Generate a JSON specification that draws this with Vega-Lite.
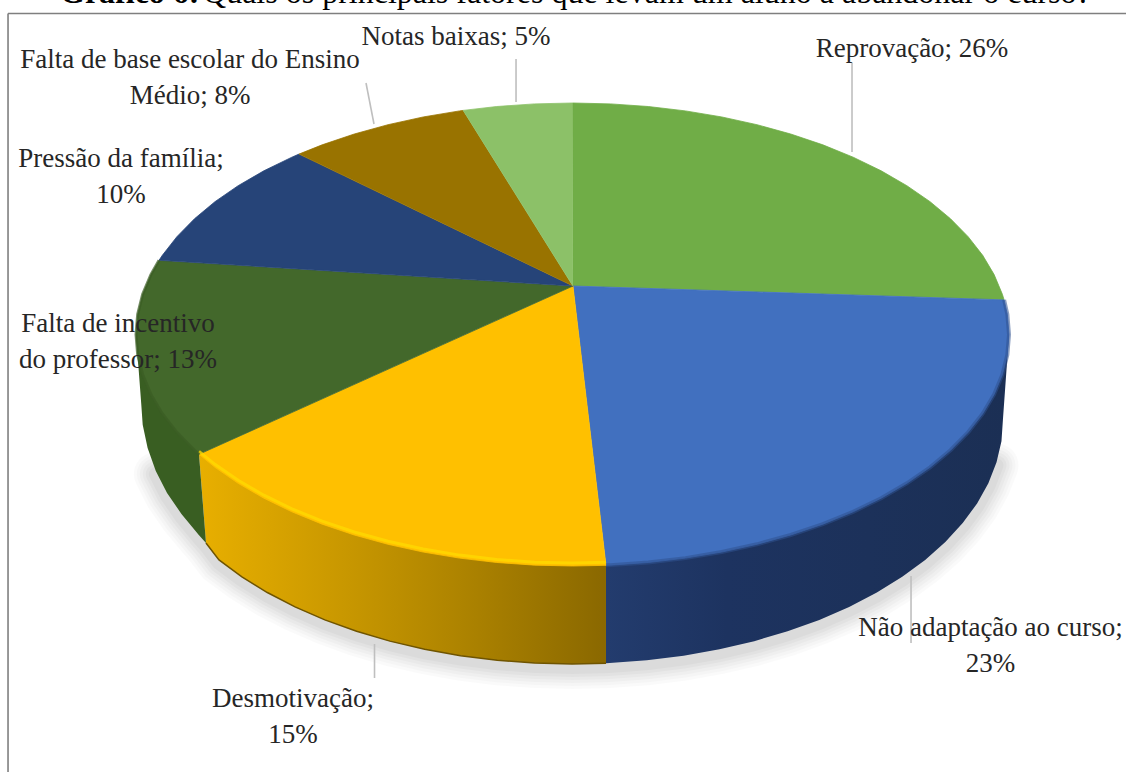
{
"$schema":"https://vega.github.io/schema/vega-lite/v6.json",
"width":1126,"height":772,"padding":0,"autosize":"none","background":"#ffffff",
"view":{"stroke":null},
"config":{"axis":{"grid":false}},
"datasets":{
"faces":[
{"slice":"Reprovação","i":0,"x":0.001,"y":0.2095},{"slice":"Reprovação","i":1,"x":0,"y":1,"edge":1},{"slice":"Reprovação","i":2,"x":0.0872,"y":0.9962,"edge":1},{"slice":"Reprovação","i":3,"x":0.1736,"y":0.9848,"edge":1},{"slice":"Reprovação","i":4,"x":0.2588,"y":0.9659,"edge":1},{"slice":"Reprovação","i":5,"x":0.342,"y":0.9397,"edge":1},{"slice":"Reprovação","i":6,"x":0.4226,"y":0.9063,"edge":1},{"slice":"Reprovação","i":7,"x":0.5,"y":0.866,"edge":1},{"slice":"Reprovação","i":8,"x":0.5736,"y":0.8192,"edge":1},{"slice":"Reprovação","i":9,"x":0.6428,"y":0.766,"edge":1},{"slice":"Reprovação","i":10,"x":0.7071,"y":0.7071,"edge":1},{"slice":"Reprovação","i":11,"x":0.766,"y":0.6428,"edge":1},{"slice":"Reprovação","i":12,"x":0.8192,"y":0.5736,"edge":1},{"slice":"Reprovação","i":13,"x":0.866,"y":0.5,"edge":1},{"slice":"Reprovação","i":14,"x":0.9063,"y":0.4226,"edge":1},{"slice":"Reprovação","i":15,"x":0.9397,"y":0.342,"edge":1},{"slice":"Reprovação","i":16,"x":0.9659,"y":0.2588,"edge":1},{"slice":"Reprovação","i":17,"x":0.9848,"y":0.1736,"edge":1},{"slice":"Reprovação","i":18,"x":0.9888,"y":0.1495,"edge":1},
{"slice":"Não adaptação ao curso","i":0,"x":0.001,"y":0.2095},{"slice":"Não adaptação ao curso","i":1,"x":0.9888,"y":0.1495,"edge":1},{"slice":"Não adaptação ao curso","i":2,"x":0.9962,"y":0.0872,"edge":1},{"slice":"Não adaptação ao curso","i":3,"x":1,"y":0,"edge":1},{"slice":"Não adaptação ao curso","i":4,"x":0.9962,"y":-0.0872,"edge":1},{"slice":"Não adaptação ao curso","i":5,"x":0.9848,"y":-0.1736,"edge":1},{"slice":"Não adaptação ao curso","i":6,"x":0.9659,"y":-0.2588,"edge":1},{"slice":"Não adaptação ao curso","i":7,"x":0.9397,"y":-0.342,"edge":1},{"slice":"Não adaptação ao curso","i":8,"x":0.9063,"y":-0.4226,"edge":1},{"slice":"Não adaptação ao curso","i":9,"x":0.866,"y":-0.5,"edge":1},{"slice":"Não adaptação ao curso","i":10,"x":0.8192,"y":-0.5736,"edge":1},{"slice":"Não adaptação ao curso","i":11,"x":0.766,"y":-0.6428,"edge":1},{"slice":"Não adaptação ao curso","i":12,"x":0.7071,"y":-0.7071,"edge":1},{"slice":"Não adaptação ao curso","i":13,"x":0.6428,"y":-0.766,"edge":1},{"slice":"Não adaptação ao curso","i":14,"x":0.5736,"y":-0.8192,"edge":1},{"slice":"Não adaptação ao curso","i":15,"x":0.5,"y":-0.866,"edge":1},{"slice":"Não adaptação ao curso","i":16,"x":0.4226,"y":-0.9063,"edge":1},{"slice":"Não adaptação ao curso","i":17,"x":0.342,"y":-0.9397,"edge":1},{"slice":"Não adaptação ao curso","i":18,"x":0.2588,"y":-0.9659,"edge":1},{"slice":"Não adaptação ao curso","i":19,"x":0.1736,"y":-0.9848,"edge":1},{"slice":"Não adaptação ao curso","i":20,"x":0.0872,"y":-0.9962,"edge":1},{"slice":"Não adaptação ao curso","i":21,"x":0.0767,"y":-0.9971,"edge":1},
{"slice":"Desmotivação","i":0,"x":0.001,"y":0.2095},{"slice":"Desmotivação","i":1,"x":0.0767,"y":-0.9971,"edge":1},{"slice":"Desmotivação","i":2,"x":0,"y":-1,"edge":1},{"slice":"Desmotivação","i":3,"x":-0.0872,"y":-0.9962,"edge":1},{"slice":"Desmotivação","i":4,"x":-0.1736,"y":-0.9848,"edge":1},{"slice":"Desmotivação","i":5,"x":-0.2588,"y":-0.9659,"edge":1},{"slice":"Desmotivação","i":6,"x":-0.342,"y":-0.9397,"edge":1},{"slice":"Desmotivação","i":7,"x":-0.4226,"y":-0.9063,"edge":1},{"slice":"Desmotivação","i":8,"x":-0.5,"y":-0.866,"edge":1},{"slice":"Desmotivação","i":9,"x":-0.5736,"y":-0.8192,"edge":1},{"slice":"Desmotivação","i":10,"x":-0.6428,"y":-0.766,"edge":1},{"slice":"Desmotivação","i":11,"x":-0.7071,"y":-0.7071,"edge":1},{"slice":"Desmotivação","i":12,"x":-0.766,"y":-0.6428,"edge":1},{"slice":"Desmotivação","i":13,"x":-0.8192,"y":-0.5736,"edge":1},{"slice":"Desmotivação","i":14,"x":-0.8557,"y":-0.5175,"edge":1},
{"slice":"Falta de incentivo do professor","i":0,"x":0.001,"y":0.2095},{"slice":"Falta de incentivo do professor","i":1,"x":-0.8557,"y":-0.5175,"edge":1},{"slice":"Falta de incentivo do professor","i":2,"x":-0.866,"y":-0.5,"edge":1},{"slice":"Falta de incentivo do professor","i":3,"x":-0.9063,"y":-0.4226,"edge":1},{"slice":"Falta de incentivo do professor","i":4,"x":-0.9397,"y":-0.342,"edge":1},{"slice":"Falta de incentivo do professor","i":5,"x":-0.9659,"y":-0.2588,"edge":1},{"slice":"Falta de incentivo do professor","i":6,"x":-0.9848,"y":-0.1736,"edge":1},{"slice":"Falta de incentivo do professor","i":7,"x":-0.9962,"y":-0.0872,"edge":1},{"slice":"Falta de incentivo do professor","i":8,"x":-1,"y":0,"edge":1},{"slice":"Falta de incentivo do professor","i":9,"x":-0.9962,"y":0.0872,"edge":1},{"slice":"Falta de incentivo do professor","i":10,"x":-0.9848,"y":0.1736,"edge":1},{"slice":"Falta de incentivo do professor","i":11,"x":-0.9659,"y":0.2588,"edge":1},{"slice":"Falta de incentivo do professor","i":12,"x":-0.9472,"y":0.3206,"edge":1},
{"slice":"Pressão da família","i":0,"x":0.001,"y":0.2095},{"slice":"Pressão da família","i":1,"x":-0.9472,"y":0.3206,"edge":1},{"slice":"Pressão da família","i":2,"x":-0.9397,"y":0.342,"edge":1},{"slice":"Pressão da família","i":3,"x":-0.9063,"y":0.4226,"edge":1},{"slice":"Pressão da família","i":4,"x":-0.866,"y":0.5,"edge":1},{"slice":"Pressão da família","i":5,"x":-0.8192,"y":0.5736,"edge":1},{"slice":"Pressão da família","i":6,"x":-0.766,"y":0.6428,"edge":1},{"slice":"Pressão da família","i":7,"x":-0.7071,"y":0.7071,"edge":1},{"slice":"Pressão da família","i":8,"x":-0.6428,"y":0.766,"edge":1},{"slice":"Pressão da família","i":9,"x":-0.6266,"y":0.7793,"edge":1},
{"slice":"Falta de base escolar","i":0,"x":0.001,"y":0.2095},{"slice":"Falta de base escolar","i":1,"x":-0.6266,"y":0.7793,"edge":1},{"slice":"Falta de base escolar","i":2,"x":-0.5736,"y":0.8192,"edge":1},{"slice":"Falta de base escolar","i":3,"x":-0.5,"y":0.866,"edge":1},{"slice":"Falta de base escolar","i":4,"x":-0.4226,"y":0.9063,"edge":1},{"slice":"Falta de base escolar","i":5,"x":-0.342,"y":0.9397,"edge":1},{"slice":"Falta de base escolar","i":6,"x":-0.2588,"y":0.9659,"edge":1},{"slice":"Falta de base escolar","i":7,"x":-0.2504,"y":0.9681,"edge":1},
{"slice":"Notas baixas","i":0,"x":0.001,"y":0.2095},{"slice":"Notas baixas","i":1,"x":-0.2504,"y":0.9681,"edge":1},{"slice":"Notas baixas","i":2,"x":-0.1736,"y":0.9848,"edge":1},{"slice":"Notas baixas","i":3,"x":-0.0872,"y":0.9962,"edge":1},{"slice":"Notas baixas","i":4,"x":0,"y":1,"edge":1}
],
"walls":[
{"slice":"Não adaptação ao curso","i":0,"x":1,"y":0},{"slice":"Não adaptação ao curso","i":1,"x":0.986,"y":-0.3693,"edge":1},{"slice":"Não adaptação ao curso","i":2,"x":0.9827,"y":-0.4612,"edge":1},{"slice":"Não adaptação ao curso","i":3,"x":0.9714,"y":-0.5523,"edge":1},{"slice":"Não adaptação ao curso","i":4,"x":0.9527,"y":-0.6421,"edge":1},{"slice":"Não adaptação ao curso","i":5,"x":0.9269,"y":-0.7298,"edge":1},{"slice":"Não adaptação ao curso","i":6,"x":0.8939,"y":-0.8147,"edge":1},{"slice":"Não adaptação ao curso","i":7,"x":0.8541,"y":-0.8963,"edge":1},{"slice":"Não adaptação ao curso","i":8,"x":0.8079,"y":-0.9739,"edge":1},{"slice":"Não adaptação ao curso","i":9,"x":0.7554,"y":-1.0468,"edge":1},{"slice":"Não adaptação ao curso","i":10,"x":0.6972,"y":-1.1146,"edge":1},{"slice":"Não adaptação ao curso","i":11,"x":0.6337,"y":-1.1767,"edge":1},{"slice":"Não adaptação ao curso","i":12,"x":0.5654,"y":-1.2327,"edge":1},{"slice":"Não adaptação ao curso","i":13,"x":0.4927,"y":-1.2821,"edge":1},{"slice":"Não adaptação ao curso","i":14,"x":0.4163,"y":-1.3245,"edge":1},{"slice":"Não adaptação ao curso","i":15,"x":0.3367,"y":-1.3597,"edge":1},{"slice":"Não adaptação ao curso","i":16,"x":0.2545,"y":-1.3874,"edge":1},{"slice":"Não adaptação ao curso","i":17,"x":0.1704,"y":-1.4073,"edge":1},{"slice":"Não adaptação ao curso","i":18,"x":0.0851,"y":-1.4193,"edge":1},{"slice":"Não adaptação ao curso","i":19,"x":0.0767,"y":-1.42,"edge":1},{"slice":"Não adaptação ao curso","i":20,"x":0.0767,"y":-0.9971},
{"slice":"Desmotivação","i":0,"x":0.0767,"y":-0.9971},{"slice":"Desmotivação","i":1,"x":0.0767,"y":-1.42,"edge":1},{"slice":"Desmotivação","i":2,"x":-0.001,"y":-1.4233,"edge":1},{"slice":"Desmotivação","i":3,"x":-0.0871,"y":-1.4193,"edge":1},{"slice":"Desmotivação","i":4,"x":-0.1724,"y":-1.4073,"edge":1},{"slice":"Desmotivação","i":5,"x":-0.2565,"y":-1.3874,"edge":1},{"slice":"Desmotivação","i":6,"x":-0.3387,"y":-1.3597,"edge":1},{"slice":"Desmotivação","i":7,"x":-0.4183,"y":-1.3245,"edge":1},{"slice":"Desmotivação","i":8,"x":-0.4947,"y":-1.2821,"edge":1},{"slice":"Desmotivação","i":9,"x":-0.5674,"y":-1.2327,"edge":1},{"slice":"Desmotivação","i":10,"x":-0.6357,"y":-1.1767,"edge":1},{"slice":"Desmotivação","i":11,"x":-0.6992,"y":-1.1146,"edge":1},{"slice":"Desmotivação","i":12,"x":-0.7574,"y":-1.0468,"edge":1},{"slice":"Desmotivação","i":13,"x":-0.8099,"y":-0.9739,"edge":1},{"slice":"Desmotivação","i":14,"x":-0.8397,"y":-0.9006,"edge":1},{"slice":"Desmotivação","i":15,"x":-0.8557,"y":-0.5175},
{"slice":"Falta de incentivo do professor","i":0,"x":-0.8557,"y":-0.5175},{"slice":"Falta de incentivo do professor","i":1,"x":-0.8397,"y":-0.9006,"edge":1},{"slice":"Falta de incentivo do professor","i":2,"x":-0.8561,"y":-0.866,"edge":1},{"slice":"Falta de incentivo do professor","i":3,"x":-0.8959,"y":-0.775,"edge":1},{"slice":"Falta de incentivo do professor","i":4,"x":-0.9289,"y":-0.685,"edge":1},{"slice":"Falta de incentivo do professor","i":5,"x":-0.9547,"y":-0.59,"edge":1},{"slice":"Falta de incentivo do professor","i":6,"x":-0.9734,"y":-0.49,"edge":1},{"slice":"Falta de incentivo do professor","i":7,"x":-0.9847,"y":-0.39,"edge":1},{"slice":"Falta de incentivo do professor","i":8,"x":-0.988,"y":-0.3,"edge":1},{"slice":"Falta de incentivo do professor","i":9,"x":-1,"y":0}
],
"leaders":[
{"slice":"Reprovação","x":0.6403,"y":1.1728,"x2":0.6403,"y2":0.7883},
{"slice":"Notas baixas","x":-0.1294,"y":1.19,"x2":-0.1294,"y2":1.0043},
{"slice":"Falta de base escolar","x":-0.4731,"y":1.0864,"x2":-0.4548,"y2":0.9093},
{"slice":"Desmotivação","x":-0.4536,"y":-1.337,"x2":-0.4536,"y2":-1.4838},
{"slice":"Não adaptação ao curso","x":0.7755,"y":-1.0432,"x2":0.7755,"y2":-1.3326}
],
"frame":[
{"x":-1.2932,"y":1.3866,"x2":1.268,"y2":1.3866},
{"x":-1.2932,"y":1.3866,"x2":-1.2932,"y2":-1.8898}
],
"labels":[
{"label":"Reprovação; 26%","share":26,"x":0.7778,"y":1.1987},
{"label":"Não adaptação ao curso;\n23%","share":23,"x":0.9576,"y":-1.3024},
{"label":"Desmotivação;\n15%","share":15,"x":-0.6403,"y":-1.6091},
{"label":"Falta de incentivo\ndo professor; 13%","share":13,"x":-1.0412,"y":0.0108},
{"label":"Pressão da família;\n10%","share":10,"x":-1.0344,"y":0.7235},
{"label":"Falta de base escolar do Ensino\nMédio; 8%","share":8,"x":-0.8763,"y":1.1512},
{"label":"Notas baixas; 5%","share":5,"x":-0.2669,"y":1.2505}
]
},
"encoding":{
"x":{"field":"x","type":"quantitative","axis":null,"scale":{"domain":[-1.3116,1.268],"nice":false,"zero":false}},
"y":{"field":"y","type":"quantitative","axis":null,"scale":{"domain":[-1.8898,1.4449],"nice":false,"zero":false}}
},
"layer":[
{"data":{"name":"frame"},"mark":{"type":"rule","stroke":"#7f7f7f","strokeWidth":1.6},"encoding":{"x2":{"field":"x2"},"y2":{"field":"y2"}}},

{"data":{"name":"walls"},"transform":[{"filter":"datum.edge && datum.y < -0.55"}],"mark":{"type":"line","stroke":"#000000","strokeOpacity":0.018,"strokeWidth":44,"yOffset":3,"strokeCap":"round"},"encoding":{"order":{"field":"x"}}},
{"data":{"name":"walls"},"transform":[{"filter":"datum.edge && datum.y < -0.55"}],"mark":{"type":"line","stroke":"#000000","strokeOpacity":0.02,"strokeWidth":38,"yOffset":3,"strokeCap":"round"},"encoding":{"order":{"field":"x"}}},
{"data":{"name":"walls"},"transform":[{"filter":"datum.edge && datum.y < -0.55"}],"mark":{"type":"line","stroke":"#000000","strokeOpacity":0.022,"strokeWidth":32,"yOffset":3,"strokeCap":"round"},"encoding":{"order":{"field":"x"}}},
{"data":{"name":"walls"},"transform":[{"filter":"datum.edge && datum.y < -0.55"}],"mark":{"type":"line","stroke":"#000000","strokeOpacity":0.024,"strokeWidth":26,"yOffset":3,"strokeCap":"round"},"encoding":{"order":{"field":"x"}}},
{"data":{"name":"walls"},"transform":[{"filter":"datum.edge && datum.y < -0.55"}],"mark":{"type":"line","stroke":"#000000","strokeOpacity":0.026,"strokeWidth":20,"yOffset":3,"strokeCap":"round"},"encoding":{"order":{"field":"x"}}},
{"data":{"name":"walls"},"transform":[{"filter":"datum.edge && datum.y < -0.55"}],"mark":{"type":"line","stroke":"#000000","strokeOpacity":0.028,"strokeWidth":14,"yOffset":3,"strokeCap":"round"},"encoding":{"order":{"field":"x"}}},

{"data":{"name":"walls"},"transform":[{"filter":"datum.slice==='Não adaptação ao curso'"}],"mark":{"type":"line","fill":{"gradient":"linear","x1":0,"y1":0,"x2":1,"y2":0,"stops":[{"offset":0,"color":"#233c6e"},{"offset":0.3,"color":"#1d3360"},{"offset":1,"color":"#1b2f54"}]},"stroke":null},"encoding":{"order":{"field":"i"}}},
{"data":{"name":"walls"},"transform":[{"filter":"datum.slice==='Desmotivação'"}],"mark":{"type":"line","fill":{"gradient":"linear","x1":1,"y1":0,"x2":0,"y2":0,"stops":[{"offset":0,"color":"#8a6800"},{"offset":0.35,"color":"#ad8300"},{"offset":0.65,"color":"#c99800"},{"offset":1,"color":"#e8af00"}]},"stroke":null},"encoding":{"order":{"field":"i"}}},
{"data":{"name":"walls"},"transform":[{"filter":"datum.slice==='Falta de incentivo do professor'"}],"mark":{"type":"line","fill":"#395e22","stroke":null},"encoding":{"order":{"field":"i"}}},
{"data":{"name":"walls"},"transform":[{"filter":"datum.edge && datum.slice==='Desmotivação'"}],"mark":{"type":"line","stroke":"#6f5400","strokeWidth":1.5},"encoding":{"order":{"field":"i"}}},

{"data":{"name":"faces"},"mark":{"type":"line","strokeWidth":0.8},
"encoding":{"order":{"field":"i"},
"fill":{"field":"slice","type":"nominal","legend":null,"scale":{"domain":["Reprovação","Não adaptação ao curso","Desmotivação","Falta de incentivo do professor","Pressão da família","Falta de base escolar","Notas baixas"],"range":["#70ad47","#4170bf","#ffc000","#43682b","#264478","#997300","#8cc168"]}},
"stroke":{"field":"slice","type":"nominal","legend":null,"scale":{"domain":["Reprovação","Não adaptação ao curso","Desmotivação","Falta de incentivo do professor","Pressão da família","Falta de base escolar","Notas baixas"],"range":["#70ad47","#4170bf","#ffc000","#43682b","#264478","#997300","#8cc168"]}}}},

{"data":{"name":"faces"},"transform":[{"filter":"datum.edge && datum.slice==='Desmotivação'"}],"mark":{"type":"line","stroke":"#ffd800","strokeWidth":3,"yOffset":-3,"strokeOpacity":0.8},"encoding":{"order":{"field":"i"}}},
{"data":{"name":"faces"},"transform":[{"filter":"datum.edge && datum.slice==='Não adaptação ao curso'"}],"mark":{"type":"line","stroke":"#2f528f","strokeWidth":4,"strokeOpacity":0.55},"encoding":{"order":{"field":"i"}}},
{"data":{"name":"faces"},"transform":[{"filter":"datum.edge && datum.slice==='Falta de incentivo do professor'"}],"mark":{"type":"line","stroke":"#3a5c24","strokeWidth":3,"strokeOpacity":0.7},"encoding":{"order":{"field":"i"}}},

{"data":{"name":"leaders"},"mark":{"type":"rule","stroke":"#bfbfbf","strokeWidth":1.6},"encoding":{"x2":{"field":"x2"},"y2":{"field":"y2"}}},

{"data":{"name":"labels"},"mark":{"type":"text","font":"Liberation Serif","fontSize":27,"align":"center","baseline":"alphabetic","lineBreak":"\n","lineHeight":36,"fill":"#262626"},"encoding":{"text":{"field":"label"}}},

{"data":{"values":[{"part":"Gráfico 6:","x":-1.1741,"y":1.4298}]},"mark":{"type":"text","font":"Liberation Serif","fontSize":32,"fontWeight":"bold","align":"left","baseline":"alphabetic","fill":"#000000"},"encoding":{"text":{"field":"part"}}},
{"data":{"values":[{"part":"Quais os principais fatores que levam um aluno a abandonar o curso?","x":-0.8465,"y":1.4298}]},"mark":{"type":"text","font":"Liberation Serif","fontSize":32,"align":"left","baseline":"alphabetic","fill":"#000000"},"encoding":{"text":{"field":"part"}}}
],
"resolve":{"scale":{"fill":"independent","stroke":"independent"}}
}
